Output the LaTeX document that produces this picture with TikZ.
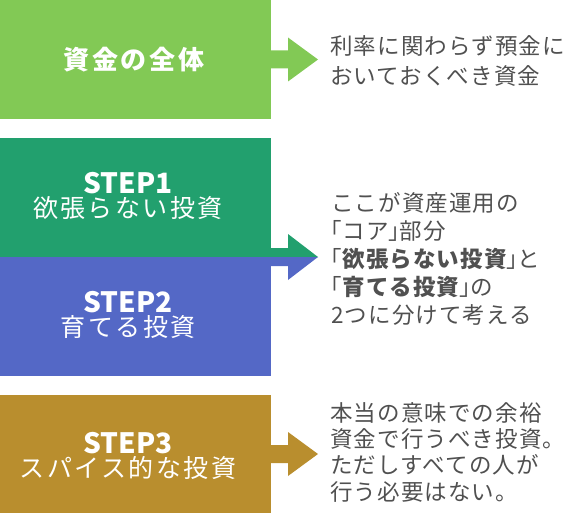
\documentclass[tikz,border=0pt]{standalone}
\usepackage{fontspec}
\setmainfont{Noto Sans CJK JP}
\newfontfamily\boxfont[LetterSpace=10]{Noto Sans CJK JP}
\newfontfamily\sidefont[LetterSpace=5]{Noto Sans CJK JP}
\newcommand{\hw}[1]{{\addfontfeature{CharacterWidth=AlternateHalf}#1}}
\definecolor{cA}{RGB}{130,201,85}
\definecolor{cB}{RGB}{34,160,110}
\definecolor{cC}{RGB}{84,104,198}
\definecolor{cD}{RGB}{185,142,46}
\definecolor{txt}{RGB}{80,80,80}
\tikzset{
  panel/.style={anchor=north west,minimum width=271pt,inner sep=0pt,outer sep=0pt},
  paneltext/.style={text=white,align=center,inner sep=0pt},
  sidetext/.style={text=txt,align=left,anchor=north west,inner sep=0pt,font=\sidefont\fontsize{22.5}{30}\selectfont},
}
\begin{document}
\begin{tikzpicture}[x=1pt,y=-1pt]
\useasboundingbox (0,0) rectangle (570,513);
% panels
\node[panel,fill=cA,minimum height=119pt] (b1) at (0,0) {};
\node[panel,fill=cB,minimum height=119pt] (b2) at (0,138) {};
\node[panel,fill=cC,minimum height=119pt] (b3) at (0,257) {};
\node[panel,fill=cD,minimum height=118pt] (b4) at (0,395) {};
% panel texts
\node[paneltext,font=\boxfont\bfseries\fontsize{26}{30}\selectfont] (t1) at (134,60) {資金の全体};
\node[paneltext] (t2) at (128,196) {{\bfseries\fontsize{28}{32}\selectfont STEP1}\\[2pt]{\boxfont\fontsize{25}{30}\selectfont 欲張らない投資}};
\node[paneltext] (t3) at (128,315) {{\bfseries\fontsize{28}{32}\selectfont STEP2}\\[2pt]{\boxfont\fontsize{25}{30}\selectfont 育てる投資}};
\node[paneltext] (t4) at (128,456) {{\bfseries\fontsize{28}{32}\selectfont STEP3}\\[2pt]{\boxfont\fontsize{25}{30}\selectfont スパイス的な投資}};
% side texts
\node[sidetext] (s1) at (330,35) {利率に関わらず預金に\\おいておくべき資金};
\node[sidetext,font=\sidefont\fontsize{22.5}{28}\selectfont] (s2) at (331,192) {ここが資産運用の\\\hw{「}コア\hw{」}部分\\\hw{「}{\bfseries 欲張らない投資}\hw{」}と\\\hw{「}{\bfseries 育てる投資}\hw{」}の\\2つに分けて考える};
\node[sidetext,font=\sidefont\fontsize{22.5}{26.3}\selectfont] (s3) at (330,402) {本当の意味での余裕\\資金で行うべき投資。\\ただしすべての人が\\行う必要はない。};
% arrows
\fill[cA] (b1.east) ++(0,-9) -- ++(17,0) -- ++(0,-13) -- ++(30,22) -- ++(-30,22) -- ++(0,-13) -- ++(-17,0) -- cycle;
\fill[cB] (b2.south east) -- ++(0,-9) -- ++(17,0) -- ++(0,-14) -- ++(30,23) -- cycle;
\fill[cC] (b3.north east) -- ++(0,9) -- ++(17,0) -- ++(0,14) -- ++(30,-23) -- cycle;
\fill[cD] (b4.east) ++(0,-9) -- ++(17,0) -- ++(0,-13) -- ++(30,22) -- ++(-30,22) -- ++(0,-13) -- ++(-17,0) -- cycle;
\end{tikzpicture}
\end{document}
